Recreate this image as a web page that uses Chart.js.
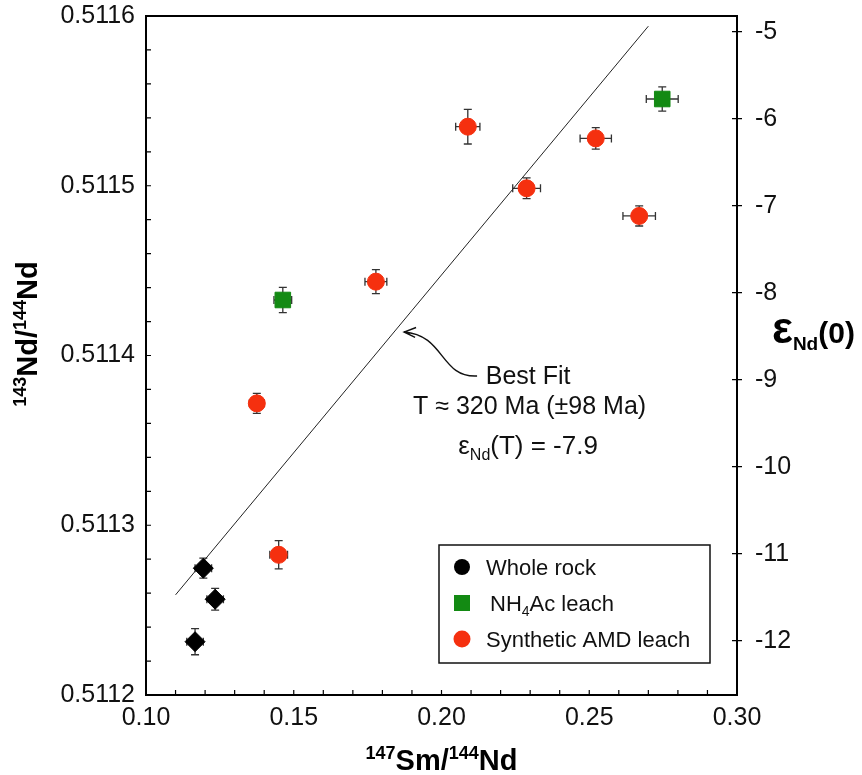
<!DOCTYPE html>
<html>
<head>
<meta charset="utf-8">
<script src="https://cdn.jsdelivr.net/npm/chart.js@4.4.1/dist/chart.umd.min.js"></script>
<style>
  html, body { margin: 0; padding: 0; background: #fff; }
  canvas { display: block; }
</style>
</head>
<body>
<canvas id="nd-chart" width="862" height="775"></canvas>
<script>
// --- data ---
var WR_X    = [0.1194, 0.1234, 0.1166];
var WR_Y    = [0.5112747, 0.5112564, 0.5112314];
var WR_XERR = [0.0028, 0.0028, 0.0028];
var WR_YERR = [0.0000059, 0.0000064, 0.0000077];

var NH_X    = [0.1463, 0.2747];
var NH_Y    = [0.5114327, 0.5115511];
var NH_XERR = [0.0030, 0.0054];
var NH_YERR = [0.0000074, 0.0000071];

var AMD_X    = [0.2089, 0.2288, 0.1778, 0.2522, 0.2669, 0.1375, 0.1449];
var AMD_Y    = [0.5115348, 0.5114985, 0.5114435, 0.5115279, 0.5114822, 0.5113718, 0.5112826];
var AMD_XERR = [0.0041, 0.0047, 0.0037, 0.0053, 0.0055, 0.0025, 0.0030];
var AMD_YERR = [0.0000102, 0.0000061, 0.0000071, 0.0000063, 0.0000059, 0.0000059, 0.0000083];

var FIT_X = [0.110, 0.270];
var FIT_Y = [0.511259, 0.511594];

var X_TICKS   = [0.10, 0.15, 0.20, 0.25, 0.30];
var Y_TICKS   = [0.5112, 0.5113, 0.5114, 0.5115, 0.5116];
var EPS_TICKS = [-5, -6, -7, -8, -9, -10, -11, -12];
var EPS_MIN = -12.624, EPS_MAX = -4.820;

var FONT = '"Liberation Sans", Arial, sans-serif';
var RED = '#f5300f', GREEN = '#138a13', BLACK = '#000000';

function pts(xs, ys, xe, ye) {
  return xs.map(function (x, i) { return { x: x, y: ys[i], xErr: xe ? xe[i] : 0, yErr: ye ? ye[i] : 0 }; });
}

// text with super/subscripts: parts = [text, kind, sizeFactor]
function drawRich(ctx, parts, x, y, align, size, weight) {
  function fontFor(p) {
    var s = p[1] ? size * 0.62 : size;
    if (p[2]) s = size * p[2];
    return weight + ' ' + Math.round(s) + 'px ' + FONT;
  }
  var w = 0;
  parts.forEach(function (p) { ctx.font = fontFor(p); w += ctx.measureText(p[0]).width; });
  var cx = align === 'center' ? x - w / 2 : x;
  ctx.textAlign = 'left';
  ctx.textBaseline = 'alphabetic';
  parts.forEach(function (p) {
    ctx.font = fontFor(p);
    var dy = p[1] === 'sup' ? -size * 0.38 : (p[1] === 'sub' ? size * 0.24 : 0);
    ctx.fillText(p[0], cx, y + dy);
    cx += ctx.measureText(p[0]).width;
  });
}

// keep the plot box where the figure has it
function noPad(s) { s.paddingTop = 0; s.paddingBottom = 0; s.paddingLeft = 0; s.paddingRight = 0; }

var errorBars = {
  id: 'errorBars',
  beforeDatasetsDraw: function (chart) {
    var ctx = chart.ctx, xs = chart.scales.x, ys = chart.scales.y;
    ctx.save();
    ctx.strokeStyle = '#333';
    ctx.lineWidth = 1.3;
    chart.data.datasets.forEach(function (ds) {
      if (ds.type === 'line') return;
      ds.data.forEach(function (p) {
        var px = xs.getPixelForValue(p.x), py = ys.getPixelForValue(p.y);
        var x0 = xs.getPixelForValue(p.x - p.xErr), x1 = xs.getPixelForValue(p.x + p.xErr);
        var y0 = ys.getPixelForValue(p.y - p.yErr), y1 = ys.getPixelForValue(p.y + p.yErr);
        ctx.beginPath();
        ctx.moveTo(x0, py); ctx.lineTo(x1, py);
        ctx.moveTo(x0, py - 4); ctx.lineTo(x0, py + 4);
        ctx.moveTo(x1, py - 4); ctx.lineTo(x1, py + 4);
        ctx.moveTo(px, y0); ctx.lineTo(px, y1);
        ctx.moveTo(px - 4, y0); ctx.lineTo(px + 4, y0);
        ctx.moveTo(px - 4, y1); ctx.lineTo(px + 4, y1);
        ctx.stroke();
      });
    });
    ctx.restore();
  }
};

var decorations = {
  id: 'decorations',
  afterDraw: function (chart) {
    var ctx = chart.ctx, a = chart.chartArea;
    var xs = chart.scales.x, ys = chart.scales.y, es = chart.scales.y2;
    ctx.save();
    ctx.strokeStyle = '#000';
    ctx.fillStyle = '#000';

    // top frame line
    ctx.lineWidth = 2;
    ctx.beginPath();
    ctx.moveTo(a.left - 1, a.top); ctx.lineTo(a.right + 1, a.top);
    ctx.stroke();

    // inward ticks on left and bottom, crosses on the right
    ctx.lineWidth = 1.2;
    ctx.beginPath();
    var v, p;
    for (v = 0; v <= 20; v++) {
      p = ys.getPixelForValue(0.5112 + v * 0.00002);
      ctx.moveTo(a.left, p); ctx.lineTo(a.left + 5, p);
      p = xs.getPixelForValue(0.10 + v * 0.01);
      ctx.moveTo(p, a.bottom); ctx.lineTo(p, a.bottom - 5);
    }
    EPS_TICKS.forEach(function (e) {
      var q = es.getPixelForValue(e);
      ctx.moveTo(a.right - 5, q); ctx.lineTo(a.right + 5, q);
    });
    ctx.stroke();

    // axis titles
    ctx.fillStyle = '#000';
    drawRich(ctx, [['147', 'sup'], ['Sm/'], ['144', 'sup'], ['Nd']], (a.left + a.right) / 2, 770, 'center', 29, 'bold');
    ctx.save();
    ctx.translate(37, 334);
    ctx.rotate(-Math.PI / 2);
    drawRich(ctx, [['143', 'sup'], ['Nd/'], ['144', 'sup'], ['Nd']], 0, 0, 'center', 29, 'bold');
    ctx.restore();
    drawRich(ctx, [['\u03b5', '', 1.45], ['Nd', 'sub'], ['(0)']], 772, 343, 'left', 30, 'bold');

    // best-fit annotation
    var ax = xs.getPixelForValue(0.2293), ay = ys.getPixelForValue(0.51139);
    ctx.fillStyle = '#111';
    drawRich(ctx, [['Best Fit']], ax, ay + 11.5, 'center', 25, 'normal');
    drawRich(ctx, [['T \u2248 320 Ma (\u00b198 Ma)']], ax + 1.5, ay + 41.5, 'center', 25, 'normal');
    drawRich(ctx, [['\u03b5'], ['Nd', 'sub'], ['(T) = -7.9']], ax, ay + 81.5, 'center', 26, 'normal');

    ctx.strokeStyle = '#111';
    ctx.lineWidth = 1.4;
    ctx.beginPath();
    ctx.moveTo(ax - 51, ay + 3.5);
    ctx.bezierCurveTo(ax - 88, ay + 5.5, ax - 83, ay - 37.5, ax - 124, ay - 40.5);
    ctx.moveTo(ax - 112, ay - 45);
    ctx.lineTo(ax - 124, ay - 40.5);
    ctx.lineTo(ax - 113, ay - 35);
    ctx.stroke();

    // legend box
    var lx = 439, ly = 545, lw = 271, lh = 118;
    ctx.lineWidth = 1.5;
    ctx.strokeStyle = '#111';
    ctx.strokeRect(lx, ly, lw, lh);
    var mx = lx + 23;
    var rows = [ly + 22, ly + 58, ly + 94];
    ctx.fillStyle = BLACK;
    ctx.beginPath(); ctx.arc(mx, rows[0], 8, 0, Math.PI * 2); ctx.fill();
    ctx.fillStyle = GREEN;
    ctx.fillRect(mx - 8, rows[1] - 8, 16, 16);
    ctx.fillStyle = RED;
    ctx.beginPath(); ctx.arc(mx, rows[2], 8.5, 0, Math.PI * 2); ctx.fill();
    ctx.fillStyle = '#111';
    var labels = chart.data.datasets.filter(function (d) { return d.type !== 'line'; });
    drawRich(ctx, [[labels[0].label]], lx + 47, rows[0] + 8, 'left', 22, 'normal');
    drawRich(ctx, [['NH'], ['4', 'sub'], ['Ac leach']], lx + 51, rows[1] + 8, 'left', 22, 'normal');
    drawRich(ctx, [[labels[2].label]], lx + 47, rows[2] + 8, 'left', 22, 'normal');

    ctx.restore();
  }
};

var tickFont = { family: FONT, size: 25 };

new Chart(document.getElementById('nd-chart'), {
  type: 'scatter',
  data: {
    datasets: [
      {
        label: 'Whole rock',
        data: pts(WR_X, WR_Y, WR_XERR, WR_YERR),
        pointStyle: 'rectRot', pointRadius: 10,
        backgroundColor: BLACK, borderColor: BLACK, borderWidth: 1,
        order: 1
      },
      {
        label: 'NH4Ac leach',
        data: pts(NH_X, NH_Y, NH_XERR, NH_YERR),
        pointStyle: 'rect', pointRadius: 11,
        backgroundColor: GREEN, borderColor: GREEN, borderWidth: 1,
        order: 1
      },
      {
        label: 'Synthetic AMD leach',
        data: pts(AMD_X, AMD_Y, AMD_XERR, AMD_YERR),
        pointStyle: 'circle', pointRadius: 8.5,
        backgroundColor: RED, borderColor: RED, borderWidth: 1,
        order: 1
      },
      {
        type: 'line',
        label: 'Best fit',
        data: pts(FIT_X, FIT_Y),
        borderColor: '#222', borderWidth: 1,
        pointRadius: 0, fill: false,
        order: 10
      }
    ]
  },
  options: {
    responsive: false,
    devicePixelRatio: 1,
    animation: false,
    layout: { padding: { top: 16, left: 0, right: 0, bottom: 0 } },
    plugins: {
      legend: { display: false },
      tooltip: { enabled: false }
    },
    scales: {
      x: {
        type: 'linear', position: 'bottom',
        min: 0.10, max: 0.30,
        afterBuildTicks: function (s) { s.ticks = X_TICKS.map(function (v) { return { value: v }; }); },
        afterFit: function (s) { s.height = 80; noPad(s); },
        ticks: {
          callback: function (v) { return Number(v).toFixed(2); },
          font: tickFont, color: '#111', padding: 8, maxRotation: 0, autoSkip: false
        },
        grid: { drawOnChartArea: false, drawTicks: false },
        border: { display: true, width: 2, color: '#000' }
      },
      y: {
        type: 'linear', position: 'left',
        min: 0.5112, max: 0.5116,
        afterBuildTicks: function (s) { s.ticks = Y_TICKS.map(function (v) { return { value: v }; }); },
        afterFit: function (s) { s.width = 146; noPad(s); },
        ticks: {
          callback: function (v) { return Number(v).toFixed(4); },
          font: tickFont, color: '#111', padding: 11, autoSkip: false
        },
        grid: { drawOnChartArea: false, drawTicks: false },
        border: { display: true, width: 2, color: '#000' }
      },
      y2: {
        type: 'linear', position: 'right',
        min: EPS_MIN, max: EPS_MAX,
        afterBuildTicks: function (s) { s.ticks = EPS_TICKS.map(function (v) { return { value: v }; }); },
        afterFit: function (s) { s.width = 125; noPad(s); },
        ticks: {
          callback: function (v) { return String(v); },
          font: tickFont, color: '#111', padding: 18, autoSkip: false
        },
        grid: { drawOnChartArea: false, drawTicks: false },
        border: { display: true, width: 2, color: '#000' }
      }
    }
  },
  plugins: [errorBars, decorations]
});
</script>
</body>
</html>
